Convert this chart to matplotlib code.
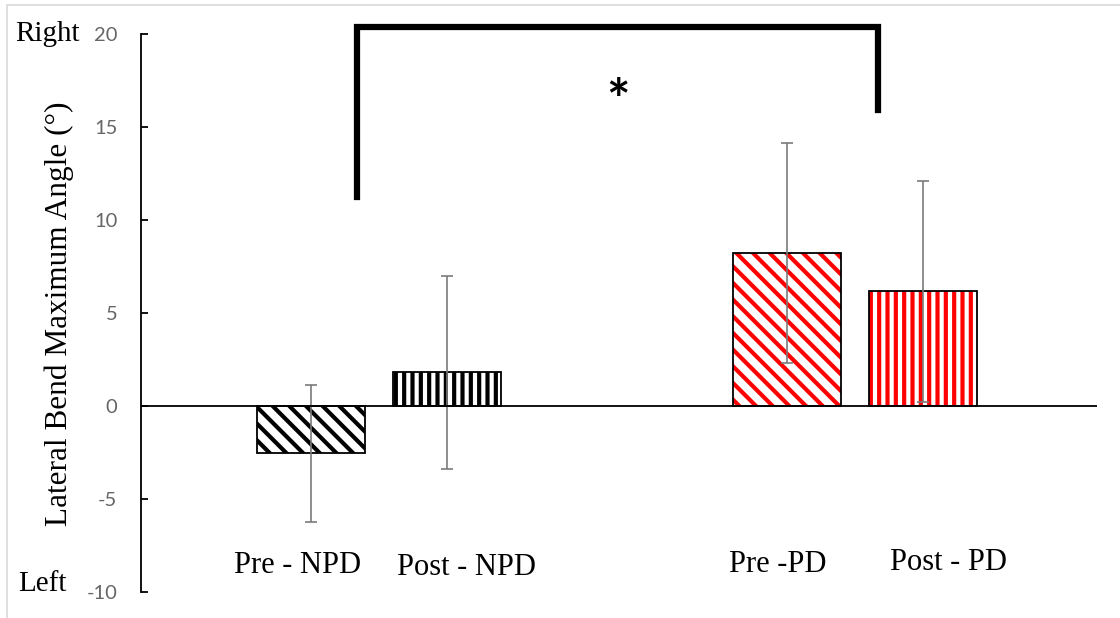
import matplotlib
matplotlib.use("Agg")
import matplotlib.pyplot as plt
from matplotlib.patches import Rectangle

# ---- data ----
categories = ["Pre - NPD", "Post - NPD", "Pre -PD", "Post - PD"]
means = [-2.55, 1.83, 8.23, 6.18]
err_low = [3.69, 5.22, 5.92, 5.96]   # mean - lower cap
err_high = [3.68, 5.16, 5.91, 5.92]  # upper cap - mean
yticks = [-10, -5, 0, 5, 10, 15, 20]
bracket_y = [11.25, 20.4, 15.9]      # left foot, top, right foot
sig_label = "*"

# ---- layout / style ----
positions = [0.0, 1.0, 3.5, 4.5]
label_offsets = [-0.10, 0.14, -0.07, 0.19]
label_y = [-8.98, -9.08, -8.93, -8.82]
bar_width = 0.79
hatch_colors = ["black", "black", "red", "red"]
hatches = ["\\\\", "||", "\\\\", "||"]

plt.rcParams["hatch.linewidth"] = 3.0
plt.rcParams["axes.unicode_minus"] = False

W, H = 1120, 618
fig = plt.figure(figsize=(W / 100, H / 100), dpi=100)
left, right = 141 / W, 1097 / W
bottom, top = (H - 592) / H, (H - 34) / H
ax = fig.add_axes([left, bottom, right - left, top - bottom])

for x, m, hc, h in zip(positions, means, hatch_colors, hatches):
    ax.bar(x, m, width=bar_width, color="white", edgecolor=hc, hatch=h,
           linewidth=0, zorder=2)
    ax.bar(x, m, width=bar_width, fill=False, edgecolor="black",
           linewidth=1.3, zorder=3)

ax.errorbar(positions, means, yerr=[err_low, err_high], fmt="none",
            ecolor="#7a7a7a", elinewidth=1.2, capsize=4.3, capthick=1.2,
            zorder=4)

ax.axhline(0, color="black", linewidth=1.3, zorder=5)

ax.set_xlim(-1.25, 5.78)
ax.set_ylim(-10, 20)
ax.set_yticks(yticks)
ax.set_xticks([])
for s in ["top", "right", "bottom"]:
    ax.spines[s].set_visible(False)
ax.spines["left"].set_linewidth(1.3)
ax.tick_params(axis="y", direction="in", length=5, width=1.3, pad=17,
               labelsize=14.5, labelcolor="#666666")
for lbl in ax.get_yticklabels():
    lbl.set_fontfamily("Lato")

serif = "Liberation Serif"
for x, off, ly, c in zip(positions, label_offsets, label_y, categories):
    ax.text(x + off, ly, c, ha="center", va="baseline", fontsize=22,
            family=serif)

# significance bracket
bx0, bx1 = positions[0] + 0.34, positions[3] - 0.33
ax.plot([bx0, bx0, bx1, bx1], [bracket_y[0], bracket_y[1], bracket_y[1], bracket_y[2]],
        color="black", linewidth=4.5, clip_on=False, solid_joinstyle="miter",
        zorder=6)
ax.text((bx0 + bx1) / 2, 15.45, sig_label, ha="center", va="baseline",
        fontsize=40, family="Lato", fontweight="bold")

# side labels
fig.text(80 / W, 1 - 41 / H, "Right", ha="right", va="baseline", fontsize=21,
         family=serif)
fig.text(67 / W, 1 - 591 / H, "Left", ha="right", va="baseline", fontsize=21,
         family=serif)
fig.text(59 / W, 1 - 314 / H, "Lateral Bend Maximum Angle (\u00b0)", rotation=90,
         ha="center", va="center", fontsize=22.5, family=serif)

# light frame
fig.patches.append(Rectangle((7 / W, -0.05), 1.2, 1 - 5 / H + 0.05,
                             transform=fig.transFigure, fill=False,
                             edgecolor="#d9d9d9", linewidth=1.2))

fig.savefig("out.png", dpi=100)
